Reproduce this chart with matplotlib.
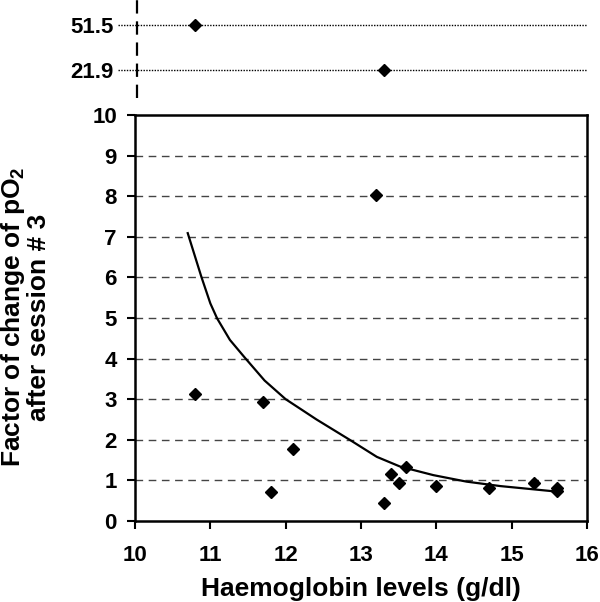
import numpy as np
import matplotlib.pyplot as plt

plt.rcParams["font.family"] = ["Liberation Sans", "DejaVu Sans"]
plt.rcParams["font.weight"] = "bold"
plt.rcParams["mathtext.fontset"] = "custom"
plt.rcParams["mathtext.rm"] = "Liberation Sans:bold"
plt.rcParams["mathtext.default"] = "regular"

# measured points (haemoglobin g/dl, factor of change of pO2)
hb = [10.8, 11.7, 11.8, 12.1, 13.2, 13.3, 13.4, 13.5, 13.6, 14.0, 14.7, 15.3, 15.6, 15.6]
factor = [3.12, 2.92, 0.72, 1.78, 8.03, 0.44, 1.16, 0.94, 1.34, 0.86, 0.82, 0.94, 0.82, 0.73]

# outliers shown in the broken top panel
hb_out = [10.8, 13.3]
factor_out = [51.5, 21.9]

# trend curve
trend_x = [10.70, 10.88, 11.00, 11.09, 11.26, 11.45, 11.72, 12.00, 12.23, 12.41,
           12.85, 13.21, 13.52, 13.96, 14.40, 14.85, 15.29, 15.62]
trend_y = [7.09, 6.02, 5.36, 4.99, 4.46, 4.04, 3.46, 3.00, 2.72, 2.50,
           2.00, 1.58, 1.34, 1.13, 0.97, 0.86, 0.78, 0.72]

W, H = 600, 602
fig = plt.figure(figsize=(W / 100, H / 100), dpi=100)

# main panel (pixel box: 135..587 x 115..521)
ax = fig.add_axes([135 / W, (H - 521) / H, 452 / W, 406 / H])
ax.set_xlim(10, 16)
ax.set_ylim(0, 10)
ax.set_xticks(range(10, 17))
ax.set_yticks(range(0, 11))
for yv in range(1, 10):
    ax.axhline(yv, color="#444444", lw=1.0, linestyle=(0, (5.5, 4)), zorder=1)
ax.plot(trend_x, trend_y, color="black", lw=1.6, zorder=2)
ax.plot(hb, factor, linestyle="none", marker="D", ms=6.3, color="black", zorder=3)
for s in ax.spines.values():
    s.set_linewidth(1.8)
ax.tick_params(direction="out", length=6, width=1.5, labelsize=16)
ax.tick_params(axis="x", pad=11)
ax.tick_params(axis="y", pad=7)

fig.text(361 / W, (H - 589) / H, "Haemoglobin levels (g/dl)", fontsize=19,
         fontweight="bold", ha="center", va="center")
fig.text(25 / W, (H - 317) / H, "Factor of change of pO$_2$\nafter session # 3",
         fontsize=19, fontweight="bold", ha="center", va="center",
         rotation=90, linespacing=1.05, multialignment="center")

# top panel with the two large values
top = fig.add_axes([118 / W, (H - 100) / H, 469 / W, 100 / H])
left_x = 10 - (135 - 118) / 75.33
top.set_xlim(left_x, 16)
top.set_ylim(2.2, 68)
for s in top.spines.values():
    s.set_visible(False)
top.set_xticks([])
top.set_yticks(factor_out)
top.set_yticklabels(["51.5", "21.9"])
top.tick_params(axis="y", length=0, labelsize=16, pad=3)
for v in factor_out:
    top.axhline(v, color="black", lw=1.0, linestyle=(0, (1, 1)), zorder=1)
top.axvline(10.02, ymin=0.02, ymax=1, color="black", lw=1.6,
            linestyle=(0, (6, 3.5)), zorder=2)
top.plot(hb_out, factor_out, linestyle="none", marker="D", ms=6.3, color="black", zorder=3)

fig.savefig("out.png", dpi=100)
